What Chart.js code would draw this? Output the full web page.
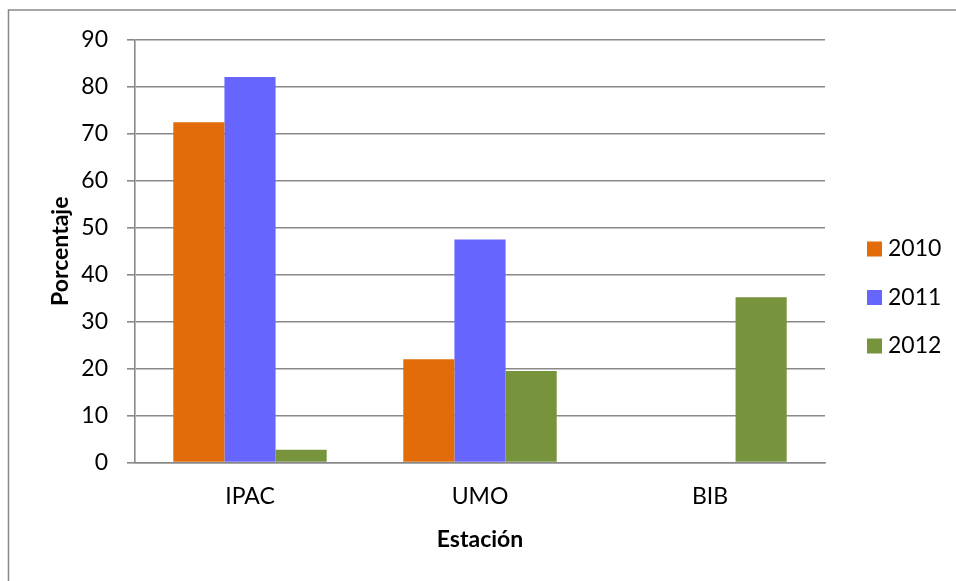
<!DOCTYPE html>
<html>
<head>
<meta charset="utf-8">
<script src="https://cdn.jsdelivr.net/npm/chart.js@4/dist/chart.umd.min.js"></script>
<style>
  html, body { margin: 0; padding: 0; background: #fff; }
  #wrap { width: 956px; height: 581px; position: relative; }
</style>
</head>
<body>
<div id="wrap"><canvas id="c" width="956" height="581"></canvas></div>
<script>
// Stations and yearly percentages
const stations = ['IPAC', 'UMO', 'BIB'];
const years = ['2010', '2011', '2012'];
const values2010 = [72.5, 22.0, 0];
const values2011 = [82.1, 47.5, 0];
const values2012 = [2.7, 19.5, 35.2];
const yTicks = [0, 10, 20, 30, 40, 50, 60, 70, 80, 90];
const seriesColors = ['#E36C0A', '#6666FF', '#77933C'];

const FONT = 'Lato, "Noto Sans", sans-serif';
const GRID = '#898989';

// Outer frame and a legend on the right side
const framePlugin = {
  id: 'frame',
  beforeDraw(chart) {
    const ctx = chart.ctx;
    ctx.save();
    ctx.fillStyle = '#fff';
    ctx.fillRect(0, 0, chart.width, chart.height);
    ctx.strokeStyle = GRID;
    ctx.lineWidth = 1.5;
    ctx.beginPath();
    ctx.moveTo(8.5, chart.height);
    ctx.lineTo(8.5, 10);
    ctx.lineTo(chart.width, 10);
    ctx.stroke();
    ctx.restore();
  },
  afterDraw(chart) {
    const ctx = chart.ctx;
    ctx.save();
    ctx.font = '23px ' + FONT;
    ctx.textBaseline = 'middle';
    ctx.textAlign = 'left';
    chart.data.datasets.forEach((ds, i) => {
      const cy = 249 + i * 48.5;
      ctx.fillStyle = ds.backgroundColor;
      ctx.fillRect(867, cy - 7.5, 15, 15);
      ctx.fillStyle = '#000';
      ctx.fillText(ds.label, 888, cy);
    });
    ctx.restore();
  }
};

new Chart(document.getElementById('c'), {
  type: 'bar',
  data: {
    labels: stations,
    datasets: [
      { label: years[0], data: values2010, backgroundColor: seriesColors[0] },
      { label: years[1], data: values2011, backgroundColor: seriesColors[1] },
      { label: years[2], data: values2012, backgroundColor: seriesColors[2] }
    ]
  },
  plugins: [framePlugin],
  options: {
    responsive: false,
    animation: false,
    devicePixelRatio: 1,
    layout: { padding: { top: 40, right: 131, bottom: 0, left: 0 } },
    datasets: { bar: { categoryPercentage: 0.667, barPercentage: 1.0, borderWidth: 0 } },
    plugins: { legend: { display: false }, tooltip: { enabled: false } },
    scales: {
      x: {
        grid: { display: false, drawTicks: false },
        border: { display: true, color: GRID, width: 1.6 },
        ticks: { color: '#000', font: { family: FONT, size: 23 }, padding: 20 },
        title: {
          display: true, text: 'Estación', color: '#000',
          font: { family: FONT, size: 23, weight: 'bold' },
          padding: { top: 0, bottom: 28 }
        },
        afterFit(scale) { scale.height = 118.5; }
      },
      y: {
        min: 0, max: 90,
        afterBuildTicks(scale) { scale.ticks = yTicks.map(v => ({ value: v })); },
        grid: { color: GRID, lineWidth: 1.6, drawTicks: true, tickLength: 8 },
        border: { display: true, color: GRID, width: 1.6 },
        ticks: { color: '#000', font: { family: FONT, size: 23 }, padding: 19 },
        title: {
          display: true, text: 'Porcentaje', color: '#000',
          font: { family: FONT, size: 23, weight: 'bold' },
          padding: { top: 47, bottom: 0 }
        },
        afterFit(scale) { scale.width = 135; }
      }
    }
  }
});
</script>
</body>
</html>
